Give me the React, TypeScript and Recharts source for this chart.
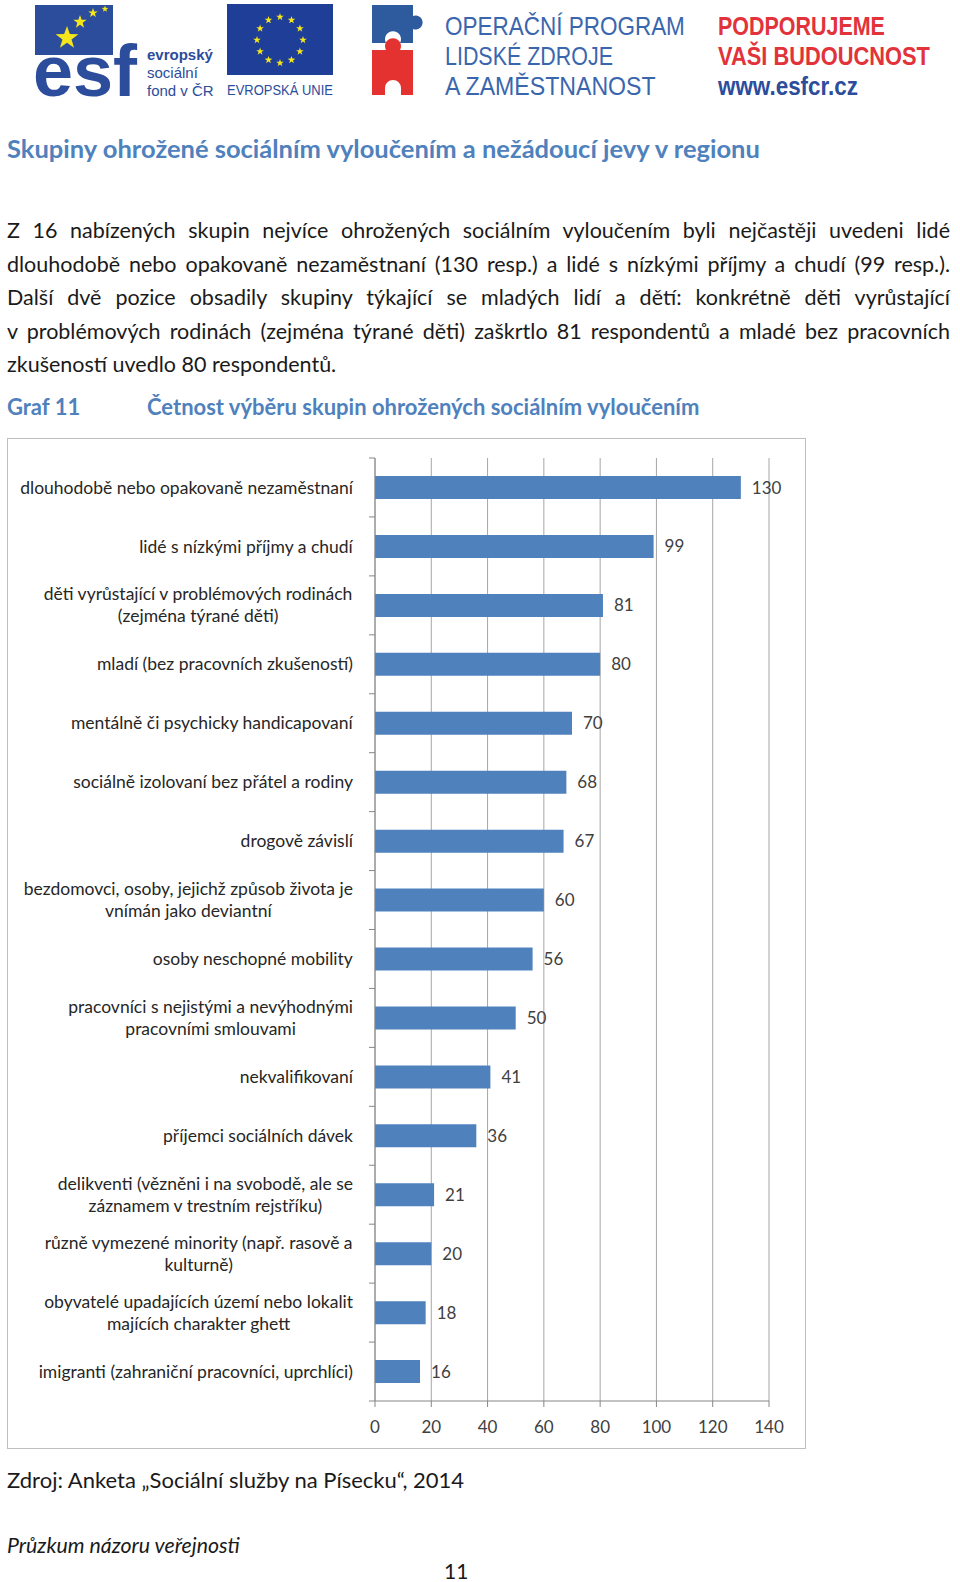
import { BarChart, Bar, XAxis, YAxis, CartesianGrid, LabelList } from 'recharts';

const categories = [
  'dlouhodobě nebo opakovaně nezaměstnaní',
  'lidé s nízkými příjmy a chudí',
  'děti vyrůstající v problémových rodinách\n(zejména týrané děti)',
  'mladí (bez pracovních zkušeností)',
  'mentálně či psychicky handicapovaní',
  'sociálně izolovaní bez přátel a rodiny',
  'drogově závislí',
  'bezdomovci, osoby, jejichž způsob života je\nvnímán jako deviantní',
  'osoby neschopné mobility',
  'pracovníci s nejistými a nevýhodnými\npracovními smlouvami',
  'nekvalifikovaní',
  'příjemci sociálních dávek',
  'delikventi (vězněni i na svobodě, ale se\nzáznamem v trestním rejstříku)',
  'různě vymezené minority (např. rasově a\nkulturně)',
  'obyvatelé upadajících území nebo lokalit\nmajících charakter ghett',
  'imigranti (zahraniční pracovníci, uprchlíci)',
];
const counts = [130, 99, 81, 80, 70, 68, 67, 60, 56, 50, 41, 36, 21, 20, 18, 16];
const xTicks = [0, 20, 40, 60, 80, 100, 120, 140];

const bodyLines = [
  'Z 16 nabízených skupin nejvíce ohrožených sociálním vyloučením byli nejčastěji uvedeni lidé',
  'dlouhodobě nebo opakovaně nezaměstnaní (130 resp.) a lidé s nízkými příjmy a chudí (99 resp.).',
  'Další dvě pozice obsadily skupiny týkající se mladých lidí a dětí: konkrétně děti vyrůstající',
  'v problémových rodinách (zejména týrané děti) zaškrtlo 81 respondentů a mladé bez pracovních',
  'zkušeností uvedlo 80 respondentů.',
];

const data = categories.map((name, i) => ({ name, value: counts[i] }));

const FONT = 'Lato, "Open Sans", sans-serif';
const BLUE = '#4F81BD';
const CHART_W = 797;
const CHART_H = 1009;
const MARGIN = { top: 19, right: 36, bottom: 0, left: 0 };
const Y_W = 367;
const X_H = 47;
const BAND = (CHART_H - MARGIN.top - X_H) / categories.length;
const LABEL_SIZE = 17.5;

let ctx: CanvasRenderingContext2D | null = null;
function textWidth(s: string, font: string): number {
  if (!ctx) ctx = document.createElement('canvas').getContext('2d');
  if (!ctx) return s.length * 8;
  ctx.font = font;
  return ctx.measureText(s).width;
}

function CategoryTick(props: any) {
  const { y, payload, index } = props;
  const lines = String(payload.value).split('\n');
  const right = Y_W - 22;
  const w = Math.max(...lines.map((l) => textWidth(l, `${LABEL_SIZE}px Lato`)));
  const cx = right - w / 2;
  const lh = 22;
  const axisX = Y_W;
  return (
    <g>
      <line x1={axisX - 6} x2={axisX} y1={y - BAND / 2} y2={y - BAND / 2} stroke="#868686" />
      {index === categories.length - 1 && (
        <line x1={axisX - 6} x2={axisX} y1={y + BAND / 2} y2={y + BAND / 2} stroke="#868686" />
      )}
      {lines.map((l, i) => (
        <text
          key={i}
          x={cx}
          y={y + (i - (lines.length - 1) / 2) * lh}
          dy="0.35em"
          textAnchor="middle"
          fontSize={LABEL_SIZE}
          fontFamily={FONT}
          fill="#262626"
        >
          {l}
        </text>
      ))}
    </g>
  );
}

// text squeezed horizontally to a given width, like the condensed logo type
function FitText(props: { x: number; y: number; width: number; size: number; bold?: boolean; fill: string; text: string }) {
  const { x, y, width, size, bold, fill, text } = props;
  const fam = 'Liberation Sans';
  const w = textWidth(text, `${bold ? 'bold ' : ''}${size}px "${fam}"`);
  const s = w > 0 ? width / w : 1;
  return (
    <text
      transform={`translate(${x},${y}) scale(${s},1)`}
      fontSize={size}
      fontWeight={bold ? 700 : 400}
      fontFamily={`"${fam}", Arial, sans-serif`}
      fill={fill}
    >
      {text}
    </text>
  );
}

function Header() {
  const stars = Array.from({ length: 12 }, (_, i) => {
    const a = (i * Math.PI) / 6;
    return { x: 280 + 23 * Math.cos(a), y: 40 + 23 * Math.sin(a) };
  });
  const star = (cx: number, cy: number, r: number) => {
    const pts: string[] = [];
    for (let i = 0; i < 10; i++) {
      const rr = i % 2 === 0 ? r : r * 0.4;
      const a = -Math.PI / 2 + (i * Math.PI) / 5;
      pts.push(`${cx + rr * Math.cos(a)},${cy + rr * Math.sin(a)}`);
    }
    return pts.join(' ');
  };
  const dark = '#2C4C9C';
  return (
    <svg width={960} height={110} style={{ position: 'absolute', left: 0, top: 0 }}>
      {/* esf */}
      <rect x={35} y={5} width={78} height={50} fill={dark} />
      <polygon points={star(67, 38, 12)} fill="#F5E51B" />
      <polygon points={star(80, 22, 7)} fill="#F5E51B" />
      <polygon points={star(93, 13, 5)} fill="#F5E51B" />
      <polygon points={star(105, 9, 3.5)} fill="#F5E51B" />
      <FitText x={33} y={96} width={104} size={72} bold fill={dark} text="esf" />
      <text x={147} y={60} fontSize={15} fontWeight={700} fontFamily="Liberation Sans, Arial" fill={dark}>evropský</text>
      <text x={147} y={78} fontSize={15} fontFamily="Liberation Sans, Arial" fill={dark}>sociální</text>
      <text x={147} y={96} fontSize={15} fontFamily="Liberation Sans, Arial" fill={dark}>fond v ČR</text>
      {/* EU */}
      <rect x={227} y={4} width={106} height={71} fill="#1F3E97" />
      {stars.map((s, i) => (
        <polygon key={i} points={star(s.x, s.y, 4)} fill="#F5E51B" />
      ))}
      <FitText x={227} y={95} width={106} size={14} fill={dark} text="EVROPSKÁ UNIE" />
      {/* puzzle */}
      <path d="M372,5 H413 V16 A7,7 0 1,1 413,29 V43 H400 A8,8 0 1,0 386,43 H372 Z" fill="#2E5A9E" />
      <path d="M372,50 H386 A8,8 0 1,1 400,50 H413 V95 H401 V88 A8,8 0 1,0 385,88 V95 H372 Z" fill="#E3322F" />
      {/* OP */}
      <FitText x={445} y={35} width={240} size={26} fill="#3A66AE" text="OPERAČNÍ PROGRAM" />
      <FitText x={445} y={65} width={168} size={26} fill="#3A66AE" text="LIDSKÉ ZDROJE" />
      <FitText x={445} y={95} width={212} size={26} fill="#3A66AE" text="A ZAMĚSTNANOST" />
      <FitText x={718} y={35} width={167} size={26} bold fill="#E2323A" text="PODPORUJEME" />
      <FitText x={718} y={65} width={212} size={26} bold fill="#E2323A" text="VAŠI BUDOUCNOST" />
      <FitText x={718} y={95} width={140} size={26} bold fill={dark} text="www.esfcr.cz" />
    </svg>
  );
}

export default function App() {
  const abs = (top: number, extra: React.CSSProperties = {}): React.CSSProperties => ({
    position: 'absolute',
    left: 7,
    top,
    lineHeight: '26px',
    whiteSpace: 'nowrap',
    ...extra,
  });
  return (
    <div style={{ position: 'absolute', left: 0, top: 0, width: 960, height: 1582, background: '#fff', fontFamily: FONT, color: '#1a1a1a' }}>
      <Header />
      <div style={abs(135, { fontSize: 25.5, fontWeight: 700, color: BLUE })}>
        Skupiny ohrožené sociálním vyloučením a nežádoucí jevy v regionu
      </div>
      {bodyLines.map((l, i) => (
        <div
          key={i}
          style={abs(217 + i * 33.5, {
            fontSize: 21.5,
            width: 943,
            whiteSpace: 'normal',
            textAlign: i < bodyLines.length - 1 ? 'justify' : 'left',
            textAlignLast: i < bodyLines.length - 1 ? 'justify' : 'left',
          })}
        >
          {l}
        </div>
      ))}
      <div style={abs(394, { fontSize: 22, fontWeight: 700, color: BLUE })}>Graf 11</div>
      <div style={abs(394, { left: 147, fontSize: 22, fontWeight: 700, color: BLUE })}>
        Četnost výběru skupin ohrožených sociálním vyloučením
      </div>
      <div
        style={{
          position: 'absolute',
          left: 7,
          top: 438,
          width: CHART_W + 2,
          height: CHART_H + 2,
          border: '1px solid #BFBFBF',
          boxSizing: 'border-box',
          background: '#fff',
        }}
      >
        <BarChart width={CHART_W} height={CHART_H} data={data} layout="vertical" margin={MARGIN}>
          <CartesianGrid horizontal={false} stroke="#A6A6A6" />
          <XAxis
            type="number"
            domain={[0, 140]}
            ticks={xTicks}
            height={X_H}
            axisLine={{ stroke: '#868686' }}
            tickLine={{ stroke: '#868686' }}
            tickSize={6}
            tickMargin={14}
            tick={{ fill: '#404040', fontSize: 17, fontFamily: FONT }}
          />
          <YAxis
            type="category"
            dataKey="name"
            width={Y_W}
            axisLine={{ stroke: '#868686' }}
            tickLine={false}
            tick={<CategoryTick />}
            interval={0}
          />
          <Bar dataKey="value" fill={BLUE} barSize={23} isAnimationActive={false}>
            <LabelList dataKey="value" position="right" offset={11} fill="#404040" fontSize={17} fontFamily={FONT} />
          </Bar>
        </BarChart>
      </div>
      <div style={abs(1467, { fontSize: 22 })}>Zdroj: Anketa „Sociální služby na Písecku“, 2014</div>
      <div style={abs(1532, { fontSize: 21.3, fontStyle: 'italic' })}>Průzkum názoru veřejnosti</div>
      <div style={abs(1558, { left: 444, fontSize: 21 })}>11</div>
    </div>
  );
}
